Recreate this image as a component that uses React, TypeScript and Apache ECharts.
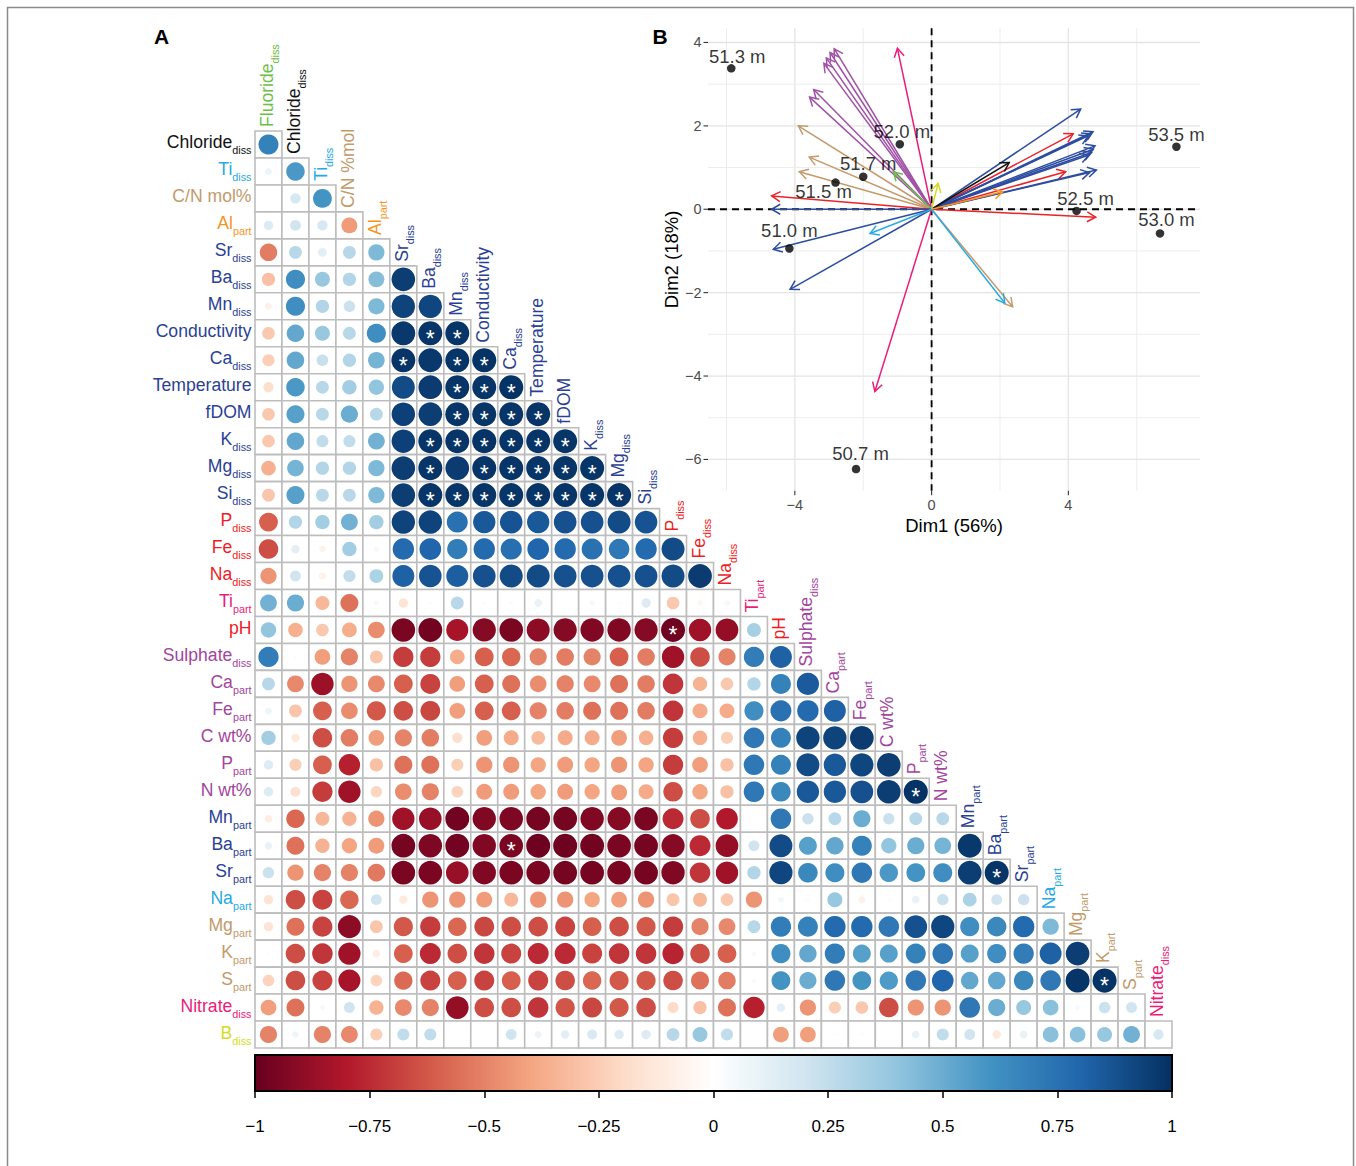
import React, { useEffect, useRef } from "react";
import * as echarts from "echarts";

const FONT = '"Liberation Sans", Arial, Helvetica, sans-serif';

// ---------- Correlation matrix variables ----------
const varMain = ["Fluoride", "Chloride", "Ti", "C/N mol%", "Al", "Sr", "Ba", "Mn", "Conductivity", "Ca", "Temperature", "fDOM", "K", "Mg", "Si", "P", "Fe", "Na", "Ti", "pH", "Sulphate", "Ca", "Fe", "C wt%", "P", "N wt%", "Mn", "Ba", "Sr", "Na", "Mg", "K", "S", "Nitrate", "B"];
const colMain = varMain.map((n, i) => (i === 3 ? "C/N %mol" : n));
const varSub = ["diss", "diss", "diss", "", "part", "diss", "diss", "diss", "", "diss", "", "", "diss", "diss", "diss", "diss", "diss", "diss", "part", "", "diss", "part", "part", "", "part", "", "part", "part", "part", "part", "part", "part", "part", "diss", "diss"];
const varGroup = ["green", "black", "lightblue", "tan", "orange", "navy", "navy", "navy", "navy", "navy", "navy", "navy", "navy", "navy", "navy", "red", "red", "red", "pink", "red", "purple", "purple", "purple", "purple", "purple", "purple", "navy", "navy", "navy", "lightblue", "tan", "tan", "tan", "pink", "yellow"];

const textColors: Record<string, string> = {
  green: "#6DBE45", black: "#111111", lightblue: "#27AAE1", tan: "#C29A6B", orange: "#F7941D",
  navy: "#2B3F95", red: "#EE1C25", pink: "#EC1C79", purple: "#A2459E", yellow: "#D4DB20",
};
const arrowColors: Record<string, string> = {
  green: "#6DBE45", black: "#111111", lightblue: "#29ABE2", tan: "#C49A6C", orange: "#F7941D",
  navy: "#2D4DA0", red: "#EC2228", pink: "#E91E7B", purple: "#A052A6", yellow: "#D4DB20",
};

// lower-triangle correlations: row k is variable k+1 against variables 0..k
const corrRows: number[][] = [
  [0.68],
  [0.08, 0.58],
  [0.0, 0.18, 0.6],
  [0.15, 0.2, 0.18, -0.43],
  [-0.52, 0.28, 0.13, 0.28, 0.45],
  [-0.3, 0.62, 0.38, 0.3, 0.43, 0.95],
  [-0.08, 0.62, 0.3, 0.22, 0.45, 0.93, 0.92],
  [-0.27, 0.52, 0.38, 0.28, 0.62, 0.97, 0.98, 0.98],
  [-0.25, 0.52, 0.23, 0.3, 0.47, 0.98, 0.97, 0.98, 0.99],
  [-0.18, 0.58, 0.28, 0.35, 0.4, 0.9, 0.96, 0.98, 0.98, 0.99],
  [-0.27, 0.55, 0.28, 0.5, 0.28, 0.94, 0.95, 0.98, 0.98, 0.98, 0.98],
  [-0.27, 0.52, 0.25, 0.25, 0.48, 0.94, 0.98, 0.98, 0.99, 0.98, 0.98, 0.98],
  [-0.36, 0.47, 0.3, 0.3, 0.45, 0.95, 0.98, 0.96, 0.98, 0.98, 0.98, 0.98, 0.98],
  [-0.28, 0.55, 0.28, 0.28, 0.45, 0.95, 0.98, 0.98, 0.98, 0.98, 0.98, 0.98, 0.98, 0.98],
  [-0.6, 0.3, 0.35, 0.48, 0.35, 0.93, 0.93, 0.75, 0.85, 0.87, 0.85, 0.88, 0.88, 0.9, 0.87],
  [-0.65, 0.12, -0.07, 0.35, 0.05, 0.78, 0.8, 0.7, 0.78, 0.76, 0.8, 0.78, 0.75, 0.72, 0.78, 0.9],
  [-0.45, 0.2, -0.08, 0.25, 0.32, 0.82, 0.87, 0.83, 0.88, 0.9, 0.9, 0.88, 0.88, 0.88, 0.88, 0.9, 0.96],
  [0.48, 0.5, -0.33, -0.55, 0.04, -0.15, 0.02, 0.28, -0.02, -0.03, 0.1, 0.01, 0.05, 0.02, 0.15, -0.27, -0.05, 0.05],
  [0.4, -0.36, -0.27, -0.37, -0.47, -0.95, -0.97, -0.83, -0.92, -0.95, -0.9, -0.92, -0.93, -0.93, -0.92, -0.98, -0.85, -0.88, 0.33],
  [0.7, -0.02, -0.42, -0.5, -0.28, -0.7, -0.7, -0.37, -0.6, -0.58, -0.5, -0.52, -0.5, -0.6, -0.52, -0.85, -0.65, -0.5, 0.7, 0.82],
  [0.28, -0.48, -0.86, -0.45, -0.48, -0.6, -0.68, -0.42, -0.6, -0.55, -0.47, -0.5, -0.48, -0.55, -0.52, -0.72, -0.35, -0.27, 0.3, 0.68, 0.84],
  [0.08, -0.28, -0.6, -0.47, -0.62, -0.65, -0.67, -0.42, -0.6, -0.6, -0.5, -0.52, -0.55, -0.55, -0.52, -0.72, -0.38, -0.38, 0.62, 0.75, 0.78, 0.82],
  [0.35, -0.12, -0.65, -0.52, -0.42, -0.5, -0.52, -0.18, -0.42, -0.38, -0.32, -0.38, -0.38, -0.42, -0.36, -0.7, -0.36, -0.25, 0.72, 0.68, 0.93, 0.93, 0.96],
  [0.15, -0.25, -0.6, -0.78, -0.3, -0.55, -0.55, -0.25, -0.45, -0.45, -0.4, -0.43, -0.4, -0.45, -0.4, -0.7, -0.42, -0.3, 0.72, 0.68, 0.9, 0.85, 0.92, 0.95],
  [0.15, -0.17, -0.7, -0.85, -0.22, -0.47, -0.5, -0.23, -0.43, -0.43, -0.4, -0.43, -0.4, -0.43, -0.38, -0.65, -0.4, -0.3, 0.72, 0.65, 0.85, 0.85, 0.88, 0.95, 0.99],
  [-0.1, -0.58, -0.33, -0.35, -0.45, -0.85, -0.87, -0.97, -0.93, -0.94, -0.96, -0.96, -0.93, -0.92, -0.95, -0.75, -0.65, -0.8, 0, 0.72, 0.22, 0.28, 0.5, 0.22, 0.28, 0.28],
  [0.1, -0.55, -0.35, -0.4, -0.43, -0.96, -0.94, -0.97, -0.93, -0.95, -0.98, -0.98, -0.97, -0.95, -0.96, -0.92, -0.75, -0.88, 0.2, 0.9, 0.55, 0.52, 0.68, 0.4, 0.5, 0.47, 0.97],
  [0.22, -0.45, -0.5, -0.5, -0.53, -0.95, -0.95, -0.87, -0.93, -0.95, -0.95, -0.96, -0.96, -0.95, -0.96, -0.93, -0.72, -0.85, 0.3, 0.92, 0.65, 0.62, 0.72, 0.58, 0.6, 0.62, 0.95, 0.98],
  [-0.15, -0.65, -0.68, -0.58, 0.2, -0.12, -0.45, -0.45, -0.43, -0.33, -0.45, -0.45, -0.4, -0.42, -0.45, -0.28, -0.33, -0.27, -0.45, 0.06, -0.02, 0.38, -0.08, 0.02, 0.1, 0.22, 0.32, 0.2, 0.22],
  [-0.15, -0.55, -0.68, -0.9, -0.28, -0.62, -0.7, -0.58, -0.67, -0.65, -0.65, -0.68, -0.6, -0.65, -0.62, -0.7, -0.5, -0.48, 0.28, 0.7, 0.68, 0.78, 0.78, 0.72, 0.88, 0.92, 0.62, 0.65, 0.78, 0.45],
  [-0.02, -0.65, -0.72, -0.85, -0.1, -0.6, -0.75, -0.65, -0.72, -0.68, -0.75, -0.75, -0.68, -0.72, -0.72, -0.77, -0.65, -0.6, 0.04, 0.62, 0.52, 0.7, 0.55, 0.55, 0.68, 0.72, 0.55, 0.62, 0.7, 0.82, 0.95],
  [-0.23, -0.65, -0.68, -0.83, -0.23, -0.57, -0.68, -0.6, -0.68, -0.6, -0.68, -0.65, -0.58, -0.62, -0.62, -0.65, -0.55, -0.52, 0.03, 0.6, 0.5, 0.72, 0.6, 0.57, 0.72, 0.8, 0.52, 0.52, 0.65, 0.72, 0.98, 0.99],
  [-0.42, -0.55, 0.05, 0.2, -0.35, -0.48, -0.5, -0.88, -0.65, -0.65, -0.72, -0.63, -0.67, -0.62, -0.65, -0.2, -0.3, -0.55, -0.78, 0.12, -0.45, -0.25, -0.27, -0.65, -0.45, -0.45, 0.72, 0.5, 0.38, 0.42, 0.04, 0.22, 0.2],
  [-0.5, 0.07, -0.5, -0.48, -0.25, 0.25, 0.25, 0, 0, 0.2, 0.08, 0.12, 0.17, 0.15, 0.15, 0.28, 0.38, 0.25, 0, -0.42, -0.42, -0.02, 0.02, 0, 0.1, 0.25, 0.2, -0.12, 0.1, 0.42, 0.42, 0.38, 0.48, 0.18],
];

// significant cells marked with "*": [variable index (row), column index]
const starCells: number[][] = [
  [8, 6], [8, 7], [9, 5], [9, 7], [9, 8], [10, 7], [10, 8], [10, 9],
  [11, 7], [11, 8], [11, 9], [11, 10],
  [12, 6], [12, 7], [12, 8], [12, 9], [12, 10], [12, 11],
  [13, 6], [13, 8], [13, 9], [13, 10], [13, 11], [13, 12],
  [14, 6], [14, 7], [14, 8], [14, 9], [14, 10], [14, 11], [14, 12], [14, 13],
  [19, 15], [25, 24], [27, 9], [28, 27], [32, 31],
];

// colour scale (RdBu)
const palette = ["#67001F", "#B2182B", "#D6604D", "#F4A582", "#FDDBC7", "#FFFFFF", "#D1E5F0", "#92C5DE", "#4393C3", "#2166AC", "#053061"];
const colorbarTicks = [-1, -0.75, -0.5, -0.25, 0, 0.25, 0.5, 0.75, 1];

// ---------- PCA biplot ----------
const arrowX = [-1.0, -1.66, -2.85, -2.97, -3.08, -3.15, -3.45, -3.57, -3.9, -3.58, -3.87, 2.37, -1.12, -4.68, 4.14, 3.92, 4.8, -4.68, -4.63, -4.14, 4.36, 4.72, 4.66, 4.58, 4.78, 4.73, 4.68, 4.6, 4.82, 4.62, 2.27, 2.08, 0.19, -1.8, 2.14];
const arrowY = [3.86, -4.37, 3.85, 3.76, 3.63, 3.5, 2.87, 2.69, 2.0, 1.25, 0.9, -2.34, 0.9, 0.32, 1.81, 0.9, -0.19, 0.0, -0.96, -1.92, 2.4, 1.86, 1.81, 1.76, 1.52, 1.44, 1.36, 1.3, 0.94, 0.88, 1.12, 0.42, 0.62, -0.58, -2.25];
const arrowGroup = ["pink", "pink", "purple", "purple", "purple", "purple", "purple", "purple", "tan", "tan", "tan", "tan", "green", "red", "red", "red", "red", "navy", "navy", "navy", "navy", "navy", "navy", "navy", "navy", "navy", "navy", "navy", "navy", "navy", "black", "orange", "yellow", "lightblue", "lightblue"];

const sampleNames = ["51.3 m", "52.0 m", "51.7 m", "51.5 m", "51.0 m", "50.7 m", "53.5 m", "52.5 m", "53.0 m"];
const sampleX = [-5.86, -0.93, -2.0, -2.81, -4.16, -2.21, 7.16, 4.24, 6.68];
const sampleY = [3.38, 1.56, 0.78, 0.64, -0.94, -6.23, 1.5, -0.04, -0.58];
const sampleLabelOffset = [[6, -12], [2, -12.5], [5, -13], [-12, 9], [0, -18], [4.5, -16], [0, -12.5], [9, -12.5], [6.5, -13.5]];

const pcaXMajor = [-4, 0, 4];
const pcaXMinor = [-6, -2, 2, 6];
const pcaYMajor = [-6, -4, -2, 0, 2, 4];
const pcaYMinor = [-5, -3, -1, 1, 3];
const PCA_XMIN = -6.54, PCA_XMAX = 7.85, PCA_YMIN = -6.75, PCA_YMAX = 4.34;

function hexToRgb(h: string) {
  const n = parseInt(h.slice(1), 16);
  return [(n >> 16) & 255, (n >> 8) & 255, n & 255];
}
function corrColor(r: number) {
  const t = Math.max(0, Math.min(10, ((r + 1) / 2) * 10));
  const i = Math.min(9, Math.floor(t));
  const f = t - i;
  const a = hexToRgb(palette[i]);
  const b = hexToRgb(palette[i + 1]);
  const c = a.map((v, k) => Math.round(v + (b[k] - v) * f));
  return `rgb(${c[0]},${c[1]},${c[2]})`;
}
function minusFmt(v: number) {
  return v < 0 ? "\u2212" + String(Math.abs(v)) : String(v);
}
function richLabel(main: string, sub: string) {
  return sub ? `{m|${main}}{s|${sub}}` : `{m|${main}}`;
}
const LABEL_FS = 17.6;
function richStyles(color: string) {
  return {
    m: { fontSize: LABEL_FS, fontFamily: FONT, fill: color },
    s: { fontSize: 10.8, fontFamily: FONT, fill: color, verticalAlign: "bottom", height: 2 },
  };
}

function buildOption() {
  const starSet = new Set(starCells.map((s) => s[0] + "_" + s[1]));
  const cellData: number[][] = [];
  corrRows.forEach((row, k) => {
    const v = k + 1;
    row.forEach((r, c) => {
      cellData.push([c, v - 1, r, starSet.has(v + "_" + c) ? 1 : 0]);
    });
  });
  const rowLabelData = varMain.slice(1).map((_, i) => [-0.5, i, i + 1]);
  const colLabelData = colMain.slice(0, 34).map((_, c) => [c, c - 0.5, c]);

  const pcaGridData = [
    ...pcaXMajor.map((v) => [v, 0]),
    ...pcaXMinor.map((v) => [v, 1]),
    ...pcaYMajor.map((v) => [v, 2]),
    ...pcaYMinor.map((v) => [v, 3]),
  ];
  const arrowData = arrowX.map((x, i) => [x, arrowY[i], i]);

  const hiddenAxis = { show: false };

  return {
    animation: false,
    backgroundColor: "#ffffff",
    textStyle: { fontFamily: FONT },
    grid: [
      { left: 255, top: 131, width: 917, height: 917, outerBoundsMode: "none" },
      { left: 708, top: 28.3, width: 492, height: 462.4, outerBoundsMode: "none" },
      { left: 255, top: 1055, width: 917, height: 36, outerBoundsMode: "none" },
    ],
    xAxis: [
      { gridIndex: 0, type: "value", min: -0.5, max: 33.5, ...hiddenAxis },
      {
        gridIndex: 1, type: "value", min: PCA_XMIN, max: PCA_XMAX,
        name: "Dim1 (56%)", nameLocation: "middle", nameGap: 25,
        nameTextStyle: { fontSize: 18.5, color: "#000", fontFamily: FONT },
        axisLine: { show: false }, axisTick: { show: false }, axisLabel: { show: false }, splitLine: { show: false },
      },
      {
        gridIndex: 2, type: "value", min: -1, max: 1, interval: 0.25,
        axisLine: { show: false },
        axisTick: { show: true, length: 7, lineStyle: { color: "#000", width: 1.5 } },
        axisLabel: { show: true, fontSize: 17, color: "#000", margin: 27, fontFamily: FONT, formatter: (v: number) => minusFmt(v) },
        splitLine: { show: false },
      },
    ],
    yAxis: [
      { gridIndex: 0, type: "value", min: -0.5, max: 33.5, inverse: true, ...hiddenAxis },
      {
        gridIndex: 1, type: "value", min: PCA_YMIN, max: PCA_YMAX,
        name: "Dim2 (18%)", nameLocation: "middle", nameGap: 27, nameRotate: 90,
        nameTextStyle: { fontSize: 18.5, color: "#000", fontFamily: FONT },
        axisLine: { show: false }, axisTick: { show: false }, axisLabel: { show: false }, splitLine: { show: false },
      },
      { gridIndex: 2, type: "value", min: 0, max: 1, ...hiddenAxis },
    ],
    graphic: [
      { type: "rect", silent: true, shape: { x: 7.5, y: 7.5, width: 1346, height: 1180 }, style: { fill: "none", stroke: "#8a8a8a", lineWidth: 1.5 } },
      { type: "text", x: 161.5, y: 36, style: { text: "A", fontSize: 21, fontWeight: "bold", fontFamily: FONT, fill: "#000", align: "center", verticalAlign: "middle" } },
      { type: "text", x: 660, y: 36, style: { text: "B", fontSize: 21, fontWeight: "bold", fontFamily: FONT, fill: "#000", align: "center", verticalAlign: "middle" } },
    ],
    series: [
      {
        type: "custom", name: "cells", xAxisIndex: 0, yAxisIndex: 0, silent: true,
        data: cellData,
        renderItem: (params: any, api: any) => {
          const c = api.value(0), rp = api.value(1), r = api.value(2), st = api.value(3);
          const tl = api.coord([c - 0.5, rp - 0.5]);
          const br = api.coord([c + 0.5, rp + 0.5]);
          const w = br[0] - tl[0], h = br[1] - tl[1];
          const cx = tl[0] + w / 2, cy = tl[1] + h / 2;
          const rad = 0.45 * w * Math.sqrt(Math.abs(r));
          const children: any[] = [
            { type: "rect", shape: { x: tl[0], y: tl[1], width: w, height: h }, style: { fill: "#fff", stroke: "#BDBDBD", lineWidth: 1.6 } },
          ];
          if (rad > 0.3) children.push({ type: "circle", shape: { cx, cy, r: rad }, style: { fill: corrColor(r) } });
          if (st) children.push({ type: "text", x: cx, y: cy + 5.5, style: { text: "*", fill: "#fff", fontSize: 23, fontFamily: FONT, align: "center", verticalAlign: "middle" } });
          return { type: "group", children };
        },
      },
      {
        type: "custom", name: "rowLabels", xAxisIndex: 0, yAxisIndex: 0, silent: true,
        data: rowLabelData,
        renderItem: (params: any, api: any) => {
          const v = api.value(2);
          const p = api.coord([api.value(0), api.value(1)]);
          const color = textColors[varGroup[v]];
          return {
            type: "text", x: p[0] - 3.5, y: p[1] - 2,
            style: { text: richLabel(varMain[v], varSub[v]), rich: richStyles(color), align: "right", verticalAlign: "middle", fill: color, fontSize: LABEL_FS, fontFamily: FONT },
          };
        },
      },
      {
        type: "custom", name: "colLabels", xAxisIndex: 0, yAxisIndex: 0, silent: true,
        data: colLabelData,
        renderItem: (params: any, api: any) => {
          const c = api.value(2);
          const p = api.coord([api.value(0), api.value(1)]);
          const color = textColors[varGroup[c]];
          return {
            type: "text", x: p[0] - 1.5, y: p[1] - 4, rotation: Math.PI / 2,
            style: { text: richLabel(colMain[c], varSub[c]), rich: richStyles(color), align: "left", verticalAlign: "middle", fill: color, fontSize: LABEL_FS, fontFamily: FONT },
          };
        },
      },
      {
        type: "custom", name: "pcaGrid", xAxisIndex: 1, yAxisIndex: 1, silent: true,
        data: pcaGridData,
        renderItem: (params: any, api: any) => {
          const v = api.value(0), kind = api.value(1);
          const cs = params.coordSys;
          const major = kind === 0 || kind === 2;
          const stroke = major ? "#E4E4E4" : "#EDEDED";
          const lw = major ? 1.3 : 1.0;
          const children: any[] = [];
          if (kind < 2) {
            const px = api.coord([v, 0])[0];
            children.push({ type: "line", shape: { x1: px, y1: cs.y, x2: px, y2: cs.y + cs.height }, style: { stroke, lineWidth: lw } });
            if (major) {
              const by = cs.y + cs.height;
              children.push({ type: "line", shape: { x1: px, y1: by, x2: px, y2: by + 4.5 }, style: { stroke: "#333", lineWidth: 1.1 } });
              children.push({ type: "text", x: px, y: by + 14.5, style: { text: minusFmt(v), fill: "#4D4D4D", fontSize: 14.5, fontFamily: FONT, align: "center", verticalAlign: "middle" } });
            }
          } else {
            const py = api.coord([0, v])[1];
            children.push({ type: "line", shape: { x1: cs.x, y1: py, x2: cs.x + cs.width, y2: py }, style: { stroke, lineWidth: lw } });
            if (major) {
              children.push({ type: "line", shape: { x1: cs.x - 4.5, y1: py, x2: cs.x, y2: py }, style: { stroke: "#333", lineWidth: 1.1 } });
              children.push({ type: "text", x: cs.x - 6.5, y: py, style: { text: minusFmt(v), fill: "#4D4D4D", fontSize: 14.5, fontFamily: FONT, align: "right", verticalAlign: "middle" } });
            }
          }
          return { type: "group", children };
        },
      },
      {
        type: "custom", name: "zeroLines", xAxisIndex: 1, yAxisIndex: 1, silent: true,
        data: [[0, 0]],
        renderItem: (params: any, api: any) => {
          const cs = params.coordSys;
          const o = api.coord([api.value(0), api.value(1)]);
          const st = { stroke: "#000", lineWidth: 1.8, lineDash: [7, 5] };
          return {
            type: "group",
            children: [
              { type: "line", shape: { x1: o[0], y1: cs.y, x2: o[0], y2: cs.y + cs.height }, style: st },
              { type: "line", shape: { x1: cs.x, y1: o[1], x2: cs.x + cs.width, y2: o[1] }, style: st },
            ],
          };
        },
      },
      {
        type: "custom", name: "arrows", xAxisIndex: 1, yAxisIndex: 1, silent: true,
        data: arrowData,
        renderItem: (params: any, api: any) => {
          const o = api.coord([0, 0]);
          const p = api.coord([api.value(0), api.value(1)]);
          const color = arrowColors[arrowGroup[api.value(2)]];
          const ang = Math.atan2(p[1] - o[1], p[0] - o[0]);
          const L = 10, a = Math.PI / 6;
          const h1 = [p[0] - L * Math.cos(ang - a), p[1] - L * Math.sin(ang - a)];
          const h2 = [p[0] - L * Math.cos(ang + a), p[1] - L * Math.sin(ang + a)];
          return {
            type: "group",
            children: [
              { type: "line", shape: { x1: o[0], y1: o[1], x2: p[0], y2: p[1] }, style: { stroke: color, lineWidth: 1.5 } },
              { type: "polyline", shape: { points: [h1, p, h2] }, style: { stroke: color, fill: "none", lineWidth: 1.5 } },
            ],
          };
        },
      },
      {
        type: "scatter", name: "samples", xAxisIndex: 1, yAxisIndex: 1, silent: true, z: 5,
        symbol: "circle", symbolSize: 8.5,
        itemStyle: { color: "#000" },
        label: { show: true, position: "inside", formatter: "{b}", color: "#000", fontSize: 18.5, fontFamily: FONT },
        data: sampleNames.map((n, i) => ({ name: n, value: [sampleX[i], sampleY[i]], label: { offset: sampleLabelOffset[i] } })),
      },
      {
        type: "custom", name: "colorbar", xAxisIndex: 2, yAxisIndex: 2, silent: true,
        data: [[colorbarTicks[0], 0, colorbarTicks[colorbarTicks.length - 1], 1]],
        renderItem: (params: any, api: any) => {
          const p0 = api.coord([api.value(0), api.value(3)]);
          const p1 = api.coord([api.value(2), api.value(1)]);
          const stops = palette.map((c, i) => ({ offset: i / (palette.length - 1), color: c }));
          return {
            type: "rect",
            shape: { x: p0[0], y: p0[1], width: p1[0] - p0[0], height: p1[1] - p0[1] },
            style: { fill: new echarts.graphic.LinearGradient(0, 0, 1, 0, stops), stroke: "#000", lineWidth: 2 },
          };
        },
      },
    ],
  };
}

export default function App() {
  const ref = useRef<HTMLDivElement>(null);
  useEffect(() => {
    document.body.style.margin = "0";
    const chart = echarts.init(ref.current as HTMLDivElement, null, { renderer: "svg" });
    chart.setOption(buildOption() as any);
    return () => chart.dispose();
  }, []);
  return (
    <div
      ref={ref}
      style={{ position: "absolute", left: 0, top: 0, width: 1356, height: 1166, background: "#fff" }}
    />
  );
}
